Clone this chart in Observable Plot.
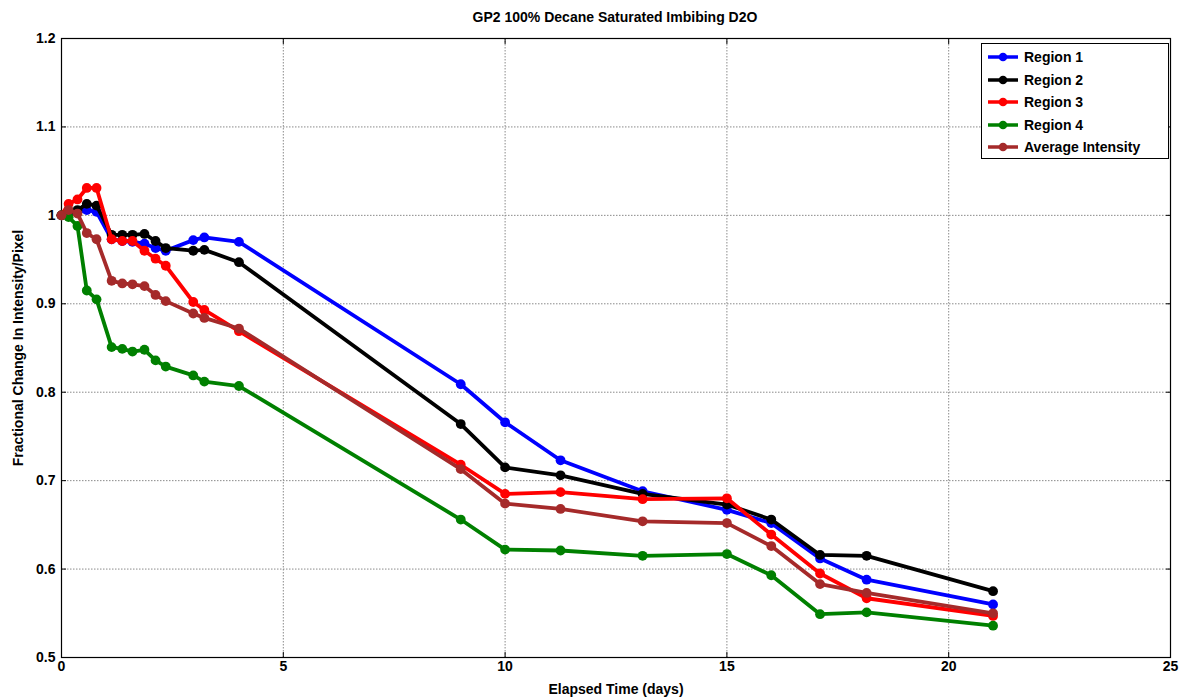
<!DOCTYPE html>
<html>
<head>
<meta charset="utf-8">
<script src="https://cdn.jsdelivr.net/npm/d3@7"></script>
<script src="https://cdn.jsdelivr.net/npm/@observablehq/plot@0.6"></script>
<style>
  html, body { margin: 0; padding: 0; background: #fff; }
  #wrap { position: relative; width: 1182px; height: 698px; font-family: "Liberation Sans", Arial, sans-serif; }
  #title { height: 30px; line-height: 34px; font-size: 14px; font-weight: bold; text-align: center; padding-left: 48px; box-sizing: border-box; width: 1182px; }
  #legend { position: absolute; left: 981px; top: 43px; width: 188px; height: 116px; border: 1px solid #000; background: #fff; box-sizing: border-box; font-size: 14px; font-weight: bold; }
  #legend .row { position: absolute; left: 0; height: 20px; display: flex; align-items: center; }
  #legend svg { margin-left: 5px; margin-right: 5px; }
</style>
</head>
<body>
<div id="wrap">
  <div id="title">GP2 100% Decane Saturated Imbibing D2O</div>
  <div id="chart"></div>
  <div id="legend"></div>
</div>
<script>
const days    = [0, 0.16, 0.36, 0.57, 0.79, 1.13, 1.37, 1.6, 1.87, 2.12, 2.35, 2.97, 3.22, 4.0, 9.0, 10.0, 11.25, 13.1, 15.0, 16.0, 17.1, 18.15, 21.0];
const region1 = [1.0, 1.002, 1.004, 1.006, 1.004, 0.973, 0.971, 0.970, 0.968, 0.963, 0.960, 0.972, 0.975, 0.970, 0.809, 0.766, 0.723, 0.688, 0.667, 0.652, 0.612, 0.588, 0.560];
const region2 = [1.0, 1.004, 1.006, 1.013, 1.011, 0.978, 0.978, 0.978, 0.979, 0.971, 0.963, 0.960, 0.961, 0.947, 0.764, 0.715, 0.706, 0.685, 0.673, 0.656, 0.616, 0.615, 0.575];
const region3 = [1.0, 1.013, 1.018, 1.031, 1.031, 0.973, 0.971, 0.971, 0.960, 0.951, 0.943, 0.902, 0.893, 0.869, 0.718, 0.685, 0.687, 0.679, 0.680, 0.639, 0.595, 0.567, 0.547];
const region4 = [1.0, 0.998, 0.988, 0.915, 0.905, 0.851, 0.849, 0.846, 0.848, 0.836, 0.829, 0.819, 0.812, 0.807, 0.656, 0.622, 0.621, 0.615, 0.617, 0.593, 0.549, 0.551, 0.536];
const average = [1.0, 1.006, 1.002, 0.980, 0.973, 0.926, 0.923, 0.922, 0.920, 0.910, 0.903, 0.889, 0.884, 0.872, 0.713, 0.674, 0.668, 0.654, 0.652, 0.626, 0.583, 0.573, 0.550];

const seriesNames = ["Region 1", "Region 2", "Region 3", "Region 4", "Average Intensity"];
const seriesValues = [region1, region2, region3, region4, average];
const seriesColors = ["#0000ff", "#000000", "#ff0000", "#008000", "#a52a2a"];
const xTicks = [0, 5, 10, 15, 20, 25];
const yTicks = [0.5, 0.6, 0.7, 0.8, 0.9, 1.0, 1.1, 1.2];

const rows = [];
seriesNames.forEach((name, i) => {
  seriesValues[i].forEach((v, j) => rows.push({series: name, order: i, day: days[j], value: v}));
});

const fmtY = d => String(+d.toFixed(1));
const grid = {stroke: "#8a8a8a", strokeOpacity: 1, strokeDasharray: "1.5,1.5", strokeWidth: 1};

const marks = [
  Plot.gridX(xTicks, grid),
  Plot.gridY(yTicks, grid),
  // inward tick marks on all four sides
  Plot.axisX(xTicks, {anchor: "bottom", tickSize: -5, tickFormat: () => "", label: null}),
  Plot.axisX(xTicks, {anchor: "top", tickSize: -5, tickFormat: () => "", label: null}),
  Plot.axisY(yTicks, {anchor: "left", tickSize: -5, tickFormat: () => "", label: null}),
  Plot.axisY(yTicks, {anchor: "right", tickSize: -5, tickFormat: () => "", label: null}),
  // tick labels
  Plot.axisX(xTicks, {anchor: "bottom", tickSize: 0, tickPadding: 4, label: "Elapsed Time (days)", labelArrow: "none", labelAnchor: "center", labelOffset: 36}),
  Plot.axisY(yTicks, {anchor: "left", tickSize: 0, tickPadding: 6, tickFormat: fmtY, label: "Fractional Change In Intensity/Pixel", labelArrow: "none", labelAnchor: "center", labelOffset: 48}),
  Plot.frame({stroke: "#000", strokeWidth: 1.2}),
];
seriesNames.forEach((name, i) => {
  const data = rows.filter(r => r.series === name);
  marks.push(Plot.line(data, {x: "day", y: "value", stroke: seriesColors[i], strokeWidth: 3.8, strokeLinejoin: "round"}));
  marks.push(Plot.dot(data, {x: "day", y: "value", fill: seriesColors[i], r: 4.9}));
});

const chart = Plot.plot({
  width: 1182,
  height: 668,
  marginLeft: 61,
  marginRight: 12,
  marginTop: 8,
  marginBottom: 41,
  style: {fontFamily: "'Liberation Sans', Arial, sans-serif", fontSize: "14px", fontWeight: "bold", color: "#000", background: "#fff"},
  x: {domain: [0, 25]},
  y: {domain: [0.5, 1.2]},
  marks
});
document.getElementById("chart").appendChild(chart);

const legend = document.getElementById("legend");
seriesNames.forEach((name, i) => {
  const row = document.createElement("div");
  row.className = "row";
  row.style.top = (3 + i * 22.6) + "px";
  row.innerHTML = `<svg width="32" height="12"><line x1="1" y1="6" x2="31" y2="6" stroke="${seriesColors[i]}" stroke-width="3.5"/><circle cx="16" cy="6" r="4.3" fill="${seriesColors[i]}"/></svg><span>${name}</span>`;
  legend.appendChild(row);
});
</script>
</body>
</html>
